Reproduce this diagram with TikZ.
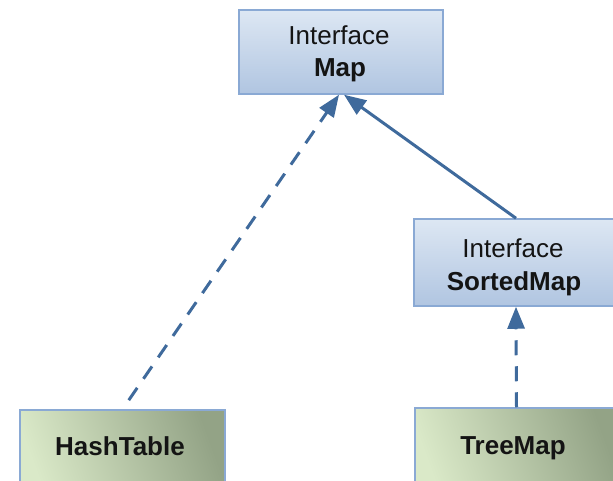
\documentclass[tikz,border=0pt]{standalone}
\usepackage{fontspec}
\setmainfont{Liberation Sans}
\usetikzlibrary{arrows.meta}

\definecolor{boxedge}{HTML}{8AA9D4}
\definecolor{bluetop}{HTML}{DDE7F3}
\definecolor{bluebot}{HTML}{B0C5E1}
\definecolor{greenlight}{HTML}{DAE9C8}
\definecolor{greendark}{HTML}{93A386}
\definecolor{linkblue}{HTML}{3F6A9C}
\definecolor{textdark}{HTML}{141414}

\tikzset{
  box/.style={rectangle, draw=boxedge, line width=1.5pt, inner sep=0pt},
  ifacebox/.style={box, top color=bluetop, bottom color=bluebot},
  classbox/.style={box, top color=greenlight, bottom color=greendark, shading angle=110},
  lbl/.style={anchor=base, inner sep=0pt, text=textdark, font=\fontsize{26}{32}\selectfont},
  blbl/.style={lbl, font=\fontsize{26}{32}\selectfont\bfseries},
  link/.style={draw=linkblue, line width=3pt, -{Triangle[length=22pt,width=17pt]}},
  dashlink/.style={link, dash pattern=on 15pt off 11pt}
}

\begin{document}
\begin{tikzpicture}[x=1pt, y=-1pt]
\useasboundingbox (0,0) rectangle (613,481);
\clip (0,0) rectangle (613,481);

% interface boxes
\node[ifacebox, minimum width=204pt, minimum height=84pt] (map) at (341,52) {};
\node[lbl]  (mapkind) at (339,45) {Interface};
\node[blbl] (mapname) at (340,77) {Map};

\node[ifacebox, minimum width=206pt, minimum height=87pt] (sorted) at (517,262.5) {};
\node[lbl]  (sortedkind) at (513,257) {Interface};
\node[blbl] (sortedname) at (514,290) {SortedMap};

% implementing classes
\node[classbox, minimum width=205pt, minimum height=90pt] (hash) at (122.5,455) {};
\node[blbl] (hashname) at (120,455) {HashTable};

\node[classbox, minimum width=205pt, minimum height=92pt] (tree) at (517.5,454) {};
\node[blbl] (treename) at (513,454) {TreeMap};

% relations
\draw[dashlink, shorten <=11pt] (hash.north) -- ([xshift=-2pt]map.south);
\draw[link] ([xshift=-1pt]sorted.north) -- ([xshift=3pt]map.south);
\draw[dashlink] ([xshift=-1pt]tree.north) -- ([xshift=-1pt]sorted.south);
\end{tikzpicture}
\end{document}
